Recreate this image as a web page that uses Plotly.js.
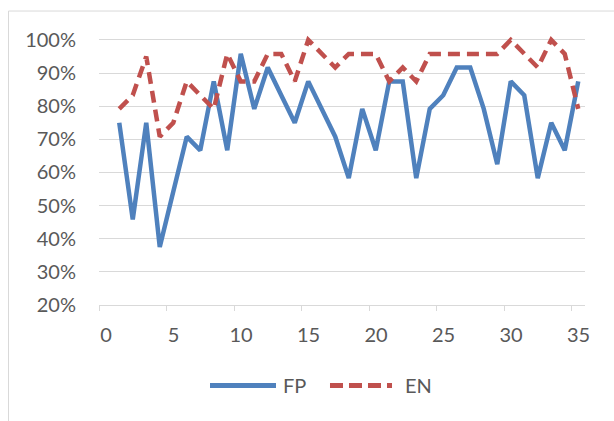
<!DOCTYPE html>
<html>
<head>
<meta charset="utf-8">
<script src="https://cdn.plot.ly/plotly-3.0.1.min.js"></script>
<style>
  html, body { margin: 0; padding: 0; background: #ffffff; }
  #chart { width: 614px; height: 421px; }
</style>
</head>
<body>
<div id="chart"></div>
<script>
var xValues = [1.5, 2.5, 3.5, 4.5, 5.5, 6.5, 7.5, 8.5, 9.5, 10.5,
               11.5, 12.5, 13.5, 14.5, 15.5, 16.5, 17.5, 18.5, 19.5, 20.5,
               21.5, 22.5, 23.5, 24.5, 25.5, 26.5, 27.5, 28.5, 29.5, 30.5,
               31.5, 32.5, 33.5, 34.5, 35.5];

// series values (percent)
var seriesNames = ["FP", "EN"];
var fpValues = [75, 45.8, 75, 37.5, 54.2, 70.8, 66.7, 87.5, 66.7, 95.8,
                79.2, 91.7, 83.3, 75, 87.5, 79.2, 70.8, 58.3, 79.2, 66.7,
                87.5, 87.5, 58.3, 79.2, 83.3, 91.7, 91.7, 79.2, 62.5, 87.5,
                83.3, 58.3, 75, 66.7, 87.5];
var enValues = [79.2, 83.3, 95, 70.8, 75, 87.5, 83.3, 79.2, 95.8, 87.5,
                87.5, 95.8, 95.8, 87.5, 100, 95.8, 91.7, 95.8, 95.8, 95.8,
                87.5, 91.7, 87.5, 95.8, 95.8, 95.8, 95.8, 95.8, 95.8, 100,
                95.8, 91.7, 100, 95.8, 79.2];

// axis ticks
var xTickVals = [0, 5, 10, 15, 20, 25, 30, 35];
var yTickVals = [20, 30, 40, 50, 60, 70, 80, 90, 100];
var yTickText = ["20%", "30%", "40%", "50%", "60%", "70%", "80%", "90%", "100%"];

var blue = "#4f81bd";
var red = "#c0504d";
var textColor = "#595959";
var gridColor = "#d9d9d9";
var fontFamily = "Lato, 'Open Sans', 'Liberation Sans', sans-serif";
var fontSize = 20;

var traces = [
  {
    type: "scatter", mode: "lines", name: seriesNames[0],
    x: xValues, y: fpValues,
    line: { color: blue, width: 4.5, dash: "solid" },
    hoverinfo: "skip"
  },
  {
    type: "scatter", mode: "lines", name: seriesNames[1],
    x: xValues, y: enValues,
    line: { color: red, width: 4.5, dash: "12px,7px" },
    hoverinfo: "skip"
  }
];

// paper coordinates for the custom legend / chart border
var legendY = -0.298;

var layout = {
  width: 614, height: 421,
  margin: { l: 99, r: 29, t: 35, b: 115.6, pad: 0 },
  paper_bgcolor: "#ffffff",
  plot_bgcolor: "#ffffff",
  showlegend: false,
  font: { family: fontFamily, size: fontSize, color: textColor },
  xaxis: {
    range: [0, 36],
    tickmode: "array",
    tickvals: xTickVals,
    ticktext: xTickVals.map(String),
    showgrid: false,
    zeroline: false,
    showline: true,
    linecolor: gridColor,
    linewidth: 1,
    ticks: "outside",
    ticklen: 5,
    tickwidth: 1,
    tickcolor: gridColor,
    ticklabelshift: 7,
    ticklabelstandoff: 7,
    tickfont: { family: fontFamily, size: fontSize, color: textColor },
    fixedrange: true
  },
  yaxis: {
    range: [20, 101.5],
    tickmode: "array",
    tickvals: yTickVals,
    ticktext: yTickText,
    showgrid: true,
    gridcolor: gridColor,
    gridwidth: 1,
    zeroline: false,
    showline: false,
    ticks: "",
    ticklabelstandoff: 22,
    tickfont: { family: fontFamily, size: fontSize, color: textColor },
    fixedrange: true
  },
  shapes: [
    // chart area border (extends beyond the visible crop on right/bottom)
    { type: "rect", xref: "paper", yref: "paper", layer: "below",
      x0: -0.1862, x1: 1.072, y0: -0.4749, y1: 1.0888,
      line: { color: gridColor, width: 1 }, fillcolor: "rgba(0,0,0,0)" },
    // legend samples
    { type: "line", xref: "paper", yref: "paper",
      x0: 0.2284, x1: 0.3642, y0: legendY, y1: legendY,
      line: { color: blue, width: 5 } },
    { type: "line", xref: "paper", yref: "paper",
      x0: 0.4753, x1: 0.6029, y0: legendY, y1: legendY,
      line: { color: red, width: 5, dash: "13px,6px" } }
  ],
  annotations: [
    { xref: "paper", yref: "paper", x: 0.3745, y: legendY,
      xanchor: "left", yanchor: "middle", showarrow: false,
      text: seriesNames[0], font: { family: fontFamily, size: fontSize, color: textColor } },
    { xref: "paper", yref: "paper", x: 0.6255, y: legendY,
      xanchor: "left", yanchor: "middle", showarrow: false,
      text: seriesNames[1], font: { family: fontFamily, size: fontSize, color: textColor } }
  ]
};

Plotly.newPlot("chart", traces, layout, { displayModeBar: false, staticPlot: true });
</script>
</body>
</html>
